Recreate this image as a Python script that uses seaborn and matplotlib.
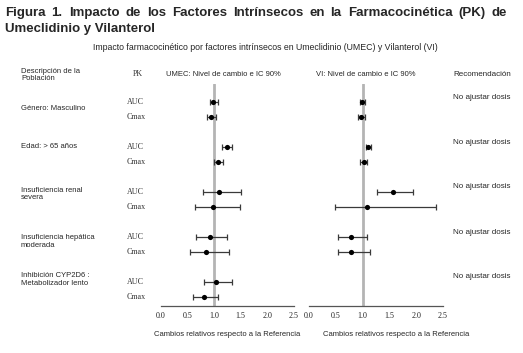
import matplotlib
matplotlib.use("Agg")
import matplotlib.pyplot as plt
import seaborn as sns
import pandas as pd
import numpy as np

# datos
grupos = ["Género: Masculino", "Edad: > 65 años", "Insuficiencia renal\nsevera",
          "Insuficiencia hepática\nmoderada", "Inhibición CYP2D6 :\nMetabolizador lento"]
recomendacion = ["No ajustar dosis"] * 5
pk = ["AUC", "Cmax"]

umec_est = [0.99, 0.95, 1.25, 1.08, 1.10, 0.99, 0.92, 0.85, 1.03, 0.81]
umec_lo = [0.93, 0.87, 1.16, 1.00, 0.80, 0.65, 0.67, 0.56, 0.81, 0.61]
umec_hi = [1.07, 1.04, 1.33, 1.17, 1.51, 1.49, 1.24, 1.29, 1.34, 1.07]

vi_est = [0.99, 0.97, 1.10, 1.03, 1.57, 1.09, 0.78, 0.78]
vi_lo = [0.95, 0.92, 1.06, 0.96, 1.26, 0.49, 0.55, 0.55]
vi_hi = [1.05, 1.04, 1.15, 1.09, 1.94, 2.37, 1.08, 1.13]

ticks = [0.0, 0.5, 1.0, 1.5, 2.0, 2.5]
xlab = "Cambios relativos respecto a la Referencia"
titulo1 = "Figura 1. Impacto de los Factores Intrínsecos en la Farmacocinética (PK) de"
titulo2 = "Umeclidinio y Vilanterol"
subtitulo = "Impacto farmacocinético por factores intrínsecos en Umeclidinio (UMEC) y Vilanterol (VI)"

W, H = 523, 353
SANS = ["Liberation Sans", "DejaVu Sans"]
SERIF = ["Liberation Serif", "DejaVu Serif"]
FS = 5.5

sns.set_theme(style="white")
plt.rcParams["font.family"] = SANS


def fila(i):
    # posicion vertical: AUC y Cmax juntos, hueco entre grupos
    return (i // 2) * 3 + (i % 2)


def make_df(est, lo, hi):
    n = len(est)
    return pd.DataFrame({
        "pos": [fila(i) for i in range(n)],
        "est": est, "lo": lo, "hi": hi,
    })


def P(x, y):
    return x / W, 1 - y / H


fig = plt.figure(figsize=(W / 100, H / 100), dpi=100)
fig.patch.set_facecolor("white")


def panel(x0, x1, df):
    y_top, y_bot = 84, 306
    ax = fig.add_axes([x0 / W, 1 - y_bot / H, (x1 - x0) / W, (y_bot - y_top) / H])
    ax.set_facecolor("none")
    ax.axvline(1.0, color="#b4b4b4", lw=2, zorder=0)
    ax.errorbar(df["est"], df["pos"], xerr=[df["est"] - df["lo"], df["hi"] - df["est"]],
                fmt="none", ecolor="#3a3a3a", elinewidth=0.9, capsize=2.5, capthick=0.9)
    sns.scatterplot(data=df, x="est", y="pos", ax=ax, color="black", s=14,
                    edgecolor="black", linewidth=0, zorder=3)
    k0 = (y_top - 102) / 15
    k1 = (y_bot - 102) / 15
    ax.set_ylim(k1, k0)
    ax.set_xlim(0, 2.5)
    ax.set_xticks(ticks)
    ax.set_xticklabels([f"{t:.1f}" for t in ticks], fontsize=5.8, family=SERIF)
    ax.set_yticks([])
    ax.set_xlabel("")
    ax.set_ylabel("")
    for s in ["top", "right", "left"]:
        ax.spines[s].set_visible(False)
    ax.spines["bottom"].set_color("#555555")
    ax.spines["bottom"].set_linewidth(0.9)
    ax.tick_params(axis="x", direction="in", length=3, width=0.9, color="#555555",
                   pad=4, labelcolor="#222222")
    return ax


ax1 = panel(160.5, 294, make_df(umec_est, umec_lo, umec_hi))
ax2 = panel(309, 443, make_df(vi_est, vi_lo, vi_hi))

# titulo justificado en la primera linea
renderer = fig.canvas.get_renderer()
palabras = titulo1.split()
objs = [fig.text(0, 0, w, fontsize=9.5, fontweight="bold", ha="left", va="center")
        for w in palabras]
anchos = [o.get_window_extent(renderer).width for o in objs]
hueco = (507 - 5 - sum(anchos)) / (len(palabras) - 1)
x = 5
for o, a in zip(objs, anchos):
    o.set_position(P(x, 13))
    x += a + hueco
fig.text(*P(5, 29), titulo2, fontsize=9.5, fontweight="bold", ha="left", va="center")
fig.text(*P(265, 47), subtitulo, fontsize=6.3, ha="center", va="center")

# encabezados
fig.text(*P(21, 75), "Descripción de la\nPoblación", fontsize=FS, ha="left", va="center",
         linespacing=1.15)
fig.text(*P(138, 74), "PK", fontsize=5.8, ha="center", va="center", family=SERIF, color="#333333")
fig.text(*P(223, 74), "UMEC: Nivel de cambio e IC 90%", fontsize=FS, ha="center", va="center")
fig.text(*P(366, 74), "VI: Nivel de cambio e IC 90%", fontsize=FS, ha="center", va="center")
fig.text(*P(453, 74), "Recomendación", fontsize=5.8, ha="left", va="center")

# etiquetas de grupo, PK y recomendacion
desplaz = [6, 0, 2, 4.5, -2.5]
for g, nombre in enumerate(grupos):
    y_auc = 102 + fila(2 * g) * 15
    fig.text(*P(21, y_auc + desplaz[g]), nombre, fontsize=FS, ha="left", va="center",
             linespacing=1.15)
    for j, p in enumerate(pk):
        fig.text(*P(127, y_auc + 15 * j), p, fontsize=5.8, ha="left", va="center",
                 family=SERIF, color="#333333")
    fig.text(*P(453, y_auc - 5), recomendacion[g], fontsize=5.8, ha="left", va="center")

fig.text(*P(227, 334), xlab, fontsize=FS, ha="center", va="center")
fig.text(*P(396, 334), xlab, fontsize=FS, ha="center", va="center")

fig.savefig("out.png", dpi=100, facecolor="white")
